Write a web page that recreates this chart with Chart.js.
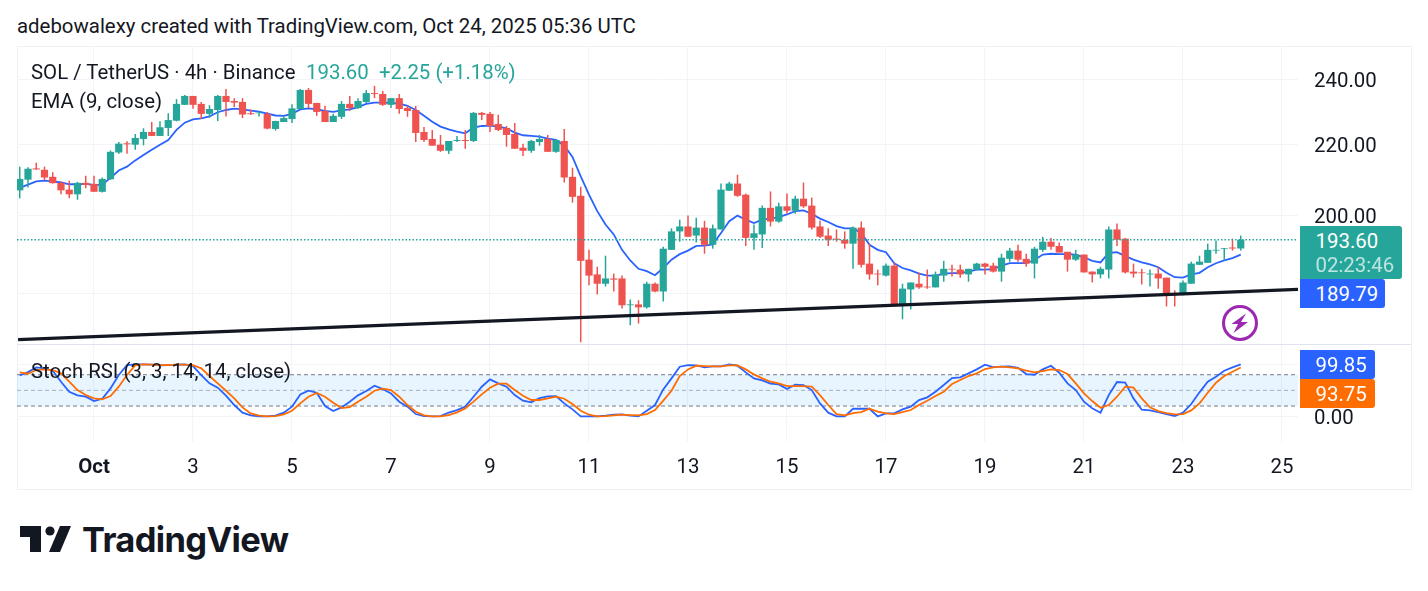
<!DOCTYPE html>
<html>
<head>
<meta charset="utf-8">
<title>SOL / TetherUS 4h</title>
<script src="https://cdn.jsdelivr.net/npm/chart.js@4/dist/chart.umd.min.js"></script>
<style>
  body { margin: 0; background: #fff; font-family: Roboto, sans-serif; color: #131722; }
  #page { position: relative; width: 1428px; height: 591px; overflow: hidden; }
  #page > * { position: absolute; }
  .txt { font-size: 20.4px; line-height: 24px; white-space: nowrap; }
  #frame { left: 17px; top: 46px; width: 1393px; height: 442px; border: 1px solid #eef0f4; }
  #divider { left: 17px; top: 344px; width: 1394px; height: 1px; background: #e0e3eb; }
  #priceChart { left: 17px; top: 46px; }
  #rsiChart { left: 17px; top: 345px; }
  .tag { left: 1300px; color: #fff; font-size: 20.4px; line-height: 24px; padding-left: 15.5px; box-sizing: border-box; border-radius: 0 3px 3px 0; }
  #lastTag { top: 226px; width: 102px; height: 53px; background: #26a69a; padding-top: 3px; }
  #lastTag span { display: block; opacity: .7; }
  #emaTag { top: 279px; width: 85px; height: 29px; background: #2962ff; padding-top: 3px; }
  #kTag { top: 350px; width: 75px; height: 29px; background: #2962ff; padding-top: 3px; }
  #dTag { top: 379px; width: 75px; height: 29px; background: #ff6d00; padding-top: 3px; }
  #logoText { left: 82px; top: 519px; font-family: Inter, sans-serif; font-weight: 700; font-size: 34.5px; line-height: 42px; letter-spacing: -.65px; color: #131722; }
</style>
</head>
<body>
<div id="page">
  <div id="frame"></div>
  <canvas id="priceChart" width="1394" height="298"></canvas>
  <div id="divider"></div>
  <canvas id="rsiChart" width="1394" height="143"></canvas>

  <div class="txt" style="left:17px;top:14px">adebowalexy created with TradingView.com, Oct 24, 2025 05:36 UTC</div>
  <div class="txt" style="left:31px;top:60px">SOL / TetherUS · 4h · Binance</div>
  <div class="txt" style="left:306px;top:60px;color:#26a69a">193.60</div>
  <div class="txt" style="left:379px;top:60px;color:#26a69a">+2.25 (+1.18%)</div>
  <div class="txt" style="left:31px;top:89px">EMA (9, close)</div>
  <div class="txt" style="left:31px;top:359px">Stoch RSI (3, 3, 14, 14, close)</div>

  <div class="tag" id="lastTag"><div id="lastValue"></div><span>02:23:46</span></div>
  <div class="tag" id="emaTag"></div>
  <div class="tag" id="kTag"></div>
  <div class="tag" id="dTag"></div>

  <svg style="left:1220px;top:303px" width="40" height="40" viewBox="1220 303 40 40">
    <circle cx="1240" cy="323" r="16.5" fill="none" stroke="#9c27b0" stroke-width="3"/>
    <polygon points="1246,313.5 1231.5,324 1238,324 1233.5,333 1248,322 1241,322" fill="#9c27b0"/>
  </svg>

  <svg style="left:20px;top:526px" width="52" height="27" viewBox="20 526 52 27">
    <polygon points="20,526 41,526 41,552 30,552 30,537 20,537" fill="#131722"/>
    <circle cx="50" cy="531" r="4.6" fill="#131722"/>
    <polygon points="60,526 71,526 60,552 49,552" fill="#131722"/>
  </svg>
  <div id="logoText">TradingView</div>
</div>

<script>
// 4h candles, oldest first
const opens = [206.9,209.9,213.1,212.7,210.7,209.0,207.1,205.8,209.0,208.7,
  206.5,210.0,217.7,220.4,220.0,221.7,223.8,222.6,225.0,227.2,
  232.1,234.9,232.4,229.3,230.5,234.9,233.3,233.0,229.5,229.5,
  229.3,224.7,226.8,227.7,230.8,236.8,232.7,230.2,226.8,228.4,
  232.4,231.1,233.0,235.8,235.5,232.1,234.2,231.1,230.5,223.8,
  221.7,220.0,218.2,221.1,221.4,221.1,229.6,229.3,226.2,225.0,
  223.2,219.1,218.2,220.8,221.7,217.9,221.1,210.7,205.4,188.5,
  184.8,182.5,183.8,183.8,177.3,177.5,176.8,182.5,180.6,191.0,
  195.8,197.1,194.7,196.8,192.3,196.3,206.8,208.8,205.7,194.1,
  195.0,202.1,198.4,202.5,201.3,204.6,202.7,197.1,194.7,193.9,
  193.6,192.6,196.8,187.5,185.0,184.5,187.0,177.5,181.1,182.5,
  181.8,181.6,184.5,186.2,186.0,184.8,186.0,187.5,187.0,185.5,
  188.7,190.8,188.7,187.5,191.0,193.1,192.0,190.5,188.5,189.8,
  185.5,184.8,186.0,196.3,193.9,185.5,185.3,184.8,185.0,184.0,
  180.1,179.9,182.5,187.2,187.7,190.8,191.2,191.6,191.35];
const highs = [213.6,213.4,214.7,213.6,212.0,209.4,209.6,209.3,211.0,211.0,
  210.5,218.3,220.8,221.0,223.2,224.9,226.8,227.0,229.5,233.9,
  235.2,234.9,233.0,232.0,235.2,237.1,234.2,234.2,230.7,230.1,
  229.9,227.2,228.7,232.3,237.1,237.4,232.7,231.8,229.3,233.3,
  234.9,234.2,236.8,238.1,236.5,234.2,235.5,231.8,231.8,225.3,
  224.4,222.9,221.1,222.6,224.4,229.9,229.9,229.9,229.0,225.6,
  226.5,220.3,221.4,222.9,222.9,221.7,224.7,213.3,207.9,191.0,
  186.7,189.5,185.0,184.5,178.7,178.5,183.0,182.8,191.8,196.6,
  198.9,200.0,199.4,198.6,197.6,208.8,209.3,211.3,206.0,197.6,
  202.7,206.6,203.5,206.0,205.4,209.1,204.9,198.6,196.6,196.3,
  195.8,197.1,198.4,192.6,186.0,187.5,187.7,182.5,182.8,185.3,
  186.0,185.5,188.2,187.2,187.2,186.2,187.7,187.7,187.7,190.0,
  191.5,192.3,190.0,191.8,194.4,194.1,192.9,190.5,191.0,189.8,
  185.5,186.7,197.1,197.9,194.1,187.5,186.2,186.0,186.7,184.0,
  180.9,183.3,188.0,189.5,192.6,193.4,191.5,193.9,194.7];
const lows = [204.7,207.7,212.7,209.7,208.8,205.8,204.7,204.3,207.5,206.5,
  206.3,209.9,217.3,217.3,218.5,219.8,222.6,222.6,222.6,227.0,
  232.1,230.9,227.7,228.1,227.1,228.5,231.4,228.0,229.0,228.5,
  224.6,224.2,226.8,226.5,230.8,231.1,228.7,226.8,226.8,227.7,
  230.2,230.8,232.7,234.2,231.8,231.1,229.3,228.4,220.8,220.8,
  219.7,217.9,217.3,220.8,218.8,220.8,227.4,223.8,224.1,219.4,
  218.8,216.7,217.6,219.7,217.9,217.6,209.1,203.5,168.7,182.1,
  179.9,181.8,180.6,176.5,172.6,173.0,176.5,180.4,178.2,191.0,
  193.1,194.4,192.9,190.0,191.3,196.3,206.8,205.1,192.0,191.0,
  191.5,197.1,198.1,200.5,200.5,202.1,196.3,194.1,192.0,193.1,
  191.3,186.2,186.5,183.5,182.1,184.3,177.3,174.0,176.3,181.3,
  181.3,181.6,183.0,184.3,184.0,183.0,185.8,184.8,185.3,183.0,
  188.0,188.0,186.7,183.8,190.5,191.0,190.3,185.5,188.2,185.3,
  182.8,183.8,183.8,192.0,185.0,184.0,182.3,181.8,181.3,177.0,
  177.0,179.7,182.5,187.2,187.7,190.0,188.2,190.8,190.8];
const closes = [210.1,213.0,212.8,210.5,208.9,206.9,205.8,209.0,208.4,206.5,
  210.1,217.9,220.3,220.1,222.0,223.8,222.6,225.2,227.4,232.4,
  234.9,232.1,229.3,230.8,234.9,233.0,232.8,229.1,229.2,229.7,
  224.8,227.1,228.0,231.0,236.8,232.4,229.9,226.8,228.7,232.4,
  231.1,233.3,235.8,235.5,232.1,234.2,230.8,230.2,223.5,221.4,
  219.7,218.2,221.1,221.4,221.1,229.6,229.0,225.6,224.4,222.9,
  218.8,218.2,221.1,221.7,217.9,221.4,210.5,205.1,188.2,184.5,
  182.5,183.8,183.5,177.3,177.5,176.8,182.5,180.6,191.3,195.8,
  197.1,194.4,196.8,192.3,196.6,207.1,208.8,205.4,194.1,195.3,
  202.1,198.4,202.5,201.3,204.6,202.5,196.8,194.4,193.6,193.6,
  192.6,196.8,187.2,184.8,184.8,187.0,177.5,181.3,182.8,181.6,
  181.6,184.8,186.2,186.0,184.8,186.2,187.5,186.7,185.5,189.0,
  190.8,188.5,187.5,191.3,193.1,191.8,190.3,188.5,189.8,185.3,
  184.8,186.2,196.3,193.6,185.3,185.0,185.1,185.0,183.8,179.9,
  179.9,182.8,187.5,188.0,191.0,191.0,191.4,191.35,193.6];

// EMA(9) line, one reading per candle
const emaValues = [207.6,208.5,209.4,209.6,209.4,209.1,208.6,208.6,208.7,208.4,
  208.5,210.4,212.5,213.6,215.4,217.0,218.5,220.0,221.4,224.4,
  226.6,227.6,227.9,228.5,229.8,230.5,230.9,230.7,230.3,230.0,
  229.4,228.8,228.7,229.3,230.7,231.0,230.7,230.2,229.9,230.4,
  230.7,231.4,232.4,232.8,232.8,232.7,232.5,231.8,230.5,228.7,
  226.9,225.4,224.6,223.9,223.4,225.1,225.6,225.7,225.4,224.9,
  223.6,222.8,222.6,222.4,221.8,221.4,219.7,216.4,210.8,205.7,
  201.2,197.6,195.0,191.0,188.3,186.2,185.6,184.6,186.4,188.5,
  189.9,190.8,192.0,192.1,192.4,195.4,198.5,200.0,198.9,198.0,
  198.9,199.2,199.6,200.3,201.2,201.4,200.5,199.2,198.3,197.2,
  196.6,196.6,195.4,192.3,191.0,190.4,187.6,186.4,185.8,185.0,
  184.5,184.5,185.0,185.1,185.1,185.5,186.0,186.0,186.1,187.0,
  187.6,187.6,187.6,188.4,189.8,190.0,189.9,189.9,189.8,189.1,
  188.2,187.8,190.2,190.4,189.4,188.5,187.8,187.3,186.6,185.2,
  184.1,184.0,184.8,185.2,186.6,187.6,188.3,188.9,189.79];

// Stochastic RSI %K and %D
const stochK = [78.7,85.1,94.1,92.2,87.7,66.6,47.4,40.4,37.8,29.5,
  34.0,53.8,79.4,98.5,99.8,99.8,99.2,97.9,98.5,99.2,
  99.8,96.6,79.4,63.4,55.1,39.8,21.9,7.2,2.1,0,
  0,1.4,7.2,18.7,42.3,49.3,45.5,19.9,10.4,17.4,
  28.3,40.4,48.7,58.9,52.5,44.2,28.3,18.7,4.6,0.8,
  0.1,0.8,7.2,12.3,18.7,37.8,57.0,71.1,63.4,57.0,
  41.0,30.2,27.0,35.3,38.5,39.1,25.1,13.6,0.1,0,
  0.1,1.4,3.3,4.0,1.4,0,11.0,21.9,51.9,73.0,
  95.4,98.5,97.9,94.1,96.0,96.0,100,97.3,84.5,73.0,
  69.1,62.8,61.5,52.5,60.8,60.2,50.6,25.1,7.2,0.1,
  0.1,14.8,14.8,14.8,0,5.9,5.9,13.6,18.7,31.5,
  36.6,47.4,60.2,73.6,74.9,82.6,90.2,99.2,94.7,95.4,
  96.0,93.4,81.3,80.0,90.2,97.3,83.8,63.4,50.6,28.3,
  15.5,7.2,41.0,66.0,64.7,34.6,12.9,11.6,8.4,4.6,
  0.8,7.2,23.8,46.2,66.6,76.2,87.7,94.1,99.85];
const stochD = [84.5,81.9,89.0,90.2,89.0,82.6,66.6,50.6,41.0,34.6,
  32.7,39.1,57.0,79.4,97.9,99.8,99.2,98.5,98.5,99.2,
  99.2,98.5,92.2,77.5,63.4,49.3,34.6,17.4,5.9,1.4,
  0,0.8,4.0,11.0,25.1,37.8,44.9,37.8,26.3,16.1,
  18.0,28.3,37.8,49.3,53.2,50.6,37.8,21.9,9.1,2.1,
  0.1,0.1,2.7,7.8,15.5,28.3,42.3,55.1,62.8,62.8,
  50.6,39.8,31.5,31.5,34.6,37.8,34.0,23.8,11.0,3.3,
  0,0.8,2.1,3.3,2.7,2.1,4.6,12.3,30.2,49.3,
  77.5,90.2,97.3,96.6,96.0,96.0,97.9,97.9,90.2,80.6,
  73.0,66.6,63.4,58.3,58.3,58.3,57.0,41.0,21.9,4.6,
  2.1,6.5,8.4,14.8,9.1,5.9,4.6,8.4,12.3,21.9,
  30.2,39.1,47.4,62.1,69.8,77.5,82.6,90.9,94.1,95.4,
  94.1,92.2,87.7,84.5,87.0,90.2,89.0,81.3,63.4,44.2,
  29.5,16.8,21.9,37.8,57.0,55.1,34.6,17.4,10.4,6.5,
  4.0,4.6,11.6,25.1,45.5,64.7,77.5,85.8,93.75];

// axes: one slot is one 4h candle, slot 0 is Oct 1 00:00
const firstSlot = -9;
const dateSlots = [0,12,24,36,48,60,72,84,96,108,120,132,144];
const dateLabels = ['Oct','3','5','7','9','11','13','15','17','19','21','23','25'];
const priceTicks = [180,200,220,240];
const stochTicks = [0,100];

// support trendline end prices and the stochastic band levels
const trendPrices = [169.3,181.1];
const bandLevels = [80,50,20];

const UP = '#26a69a', DOWN = '#ef5350', BLUE = '#2962ff', ORANGE = '#ff6d00', GRID = '#f2f4f7';
const slotMin = -9.333, slotMax = 145.94;

const slots = closes.map((_, i) => i + firstSlot);
const candleColors = closes.map((c, i) => c >= opens[i] ? UP : DOWN);
const spanPoints = v => [{x: slotMin, y: v}, {x: slotMax, y: v}];
const lineOn = (vals) => vals.map((v, i) => ({x: slots[i], y: v}));

function fixAxis(width) {
  return s => { s.width = width; s.paddingTop = 0; s.paddingBottom = 0; };
}

const xGrid = {color: GRID, offset: false, drawTicks: false};
const axisFont = {family: 'Roboto', size: 20.4};

const lastClose = closes[closes.length - 1];

new Chart(document.getElementById('priceChart'), {
  type: 'bar',
  data: {
    datasets: [
      {type: 'line', order: 0, data: [{x: -9.2, y: trendPrices[0]}, {x: slotMax, y: trendPrices[1]}],
        borderColor: '#131722', borderWidth: 3.2, pointRadius: 0},
      {type: 'line', order: 1, data: spanPoints(lastClose),
        borderColor: UP, borderWidth: 1.4, borderDash: [1.5, 2], pointRadius: 0},
      {order: 2, data: slots.map((x, i) => ({x, y: [opens[i], closes[i]]})),
        backgroundColor: candleColors, barThickness: 7.2, grouped: false, inflateAmount: 0},
      {order: 3, data: slots.map((x, i) => ({x, y: [lows[i], highs[i]]})),
        backgroundColor: candleColors, barThickness: 1.5, grouped: false, inflateAmount: 0},
      {type: 'line', order: 4, data: lineOn(emaValues),
        borderColor: BLUE, borderWidth: 1.8, pointRadius: 0}
    ]
  },
  options: {
    responsive: false,
    animation: false,
    layout: {padding: 0},
    plugins: {legend: {display: false}, tooltip: {enabled: false}},
    scales: {
      x: {
        type: 'linear', min: slotMin, max: slotMax, offset: false,
        afterBuildTicks: s => { s.ticks = dateSlots.map(value => ({value})); },
        grid: xGrid, border: {display: false}, ticks: {display: false}
      },
      y: {
        type: 'logarithmic', position: 'right', min: 168.3, max: 251.2,
        afterBuildTicks: s => { s.ticks = priceTicks.map(value => ({value})); },
        afterFit: fixAxis(113),
        grid: {color: GRID, drawTicks: false}, border: {display: false},
        ticks: {
          padding: 16, labelOffset: 2, color: '#131722', font: axisFont,
          // 180 sits under the EMA value tag
          callback: v => v === 180 ? '' : v.toFixed(2)
        }
      }
    }
  }
});

new Chart(document.getElementById('rsiChart'), {
  type: 'line',
  data: {
    datasets: [
      {order: 0, data: lineOn(stochD), borderColor: ORANGE, borderWidth: 1.8, pointRadius: 0},
      {order: 1, data: lineOn(stochK), borderColor: BLUE, borderWidth: 1.8, pointRadius: 0},
      {order: 2, data: spanPoints(bandLevels[0]), borderColor: '#787b86', borderWidth: 1, borderDash: [4, 3],
        pointRadius: 0, fill: {target: {value: bandLevels[2]}}, backgroundColor: 'rgba(33,150,243,.1)'},
      {order: 3, data: spanPoints(bandLevels[1]), borderColor: '#b2b5be', borderWidth: 1, borderDash: [4, 3], pointRadius: 0},
      {order: 4, data: spanPoints(bandLevels[2]), borderColor: '#787b86', borderWidth: 1, borderDash: [4, 3], pointRadius: 0}
    ]
  },
  options: {
    responsive: false,
    animation: false,
    layout: {padding: 0},
    plugins: {legend: {display: false}, tooltip: {enabled: false}},
    scales: {
      x: {
        type: 'linear', min: slotMin, max: slotMax, offset: false,
        afterBuildTicks: s => { s.ticks = dateSlots.map(value => ({value})); },
        afterFit: s => { s.height = 46; s.paddingLeft = 0; s.paddingRight = 0; },
        grid: xGrid, border: {display: false},
        ticks: {
          autoSkip: false, maxRotation: 0, padding: 14, color: '#131722',
          font: ctx => ctx.index === 0 ? {family: 'Roboto', size: 20.4, weight: 'bold'} : axisFont,
          callback: (v) => dateLabels[dateSlots.indexOf(v)]
        }
      },
      y: {
        position: 'right', min: -49, max: 137,
        afterBuildTicks: s => { s.ticks = stochTicks.map(value => ({value})); },
        afterFit: fixAxis(113),
        grid: {color: GRID, drawTicks: false}, border: {display: false},
        ticks: {
          padding: 16, labelOffset: 2.5, color: '#131722', font: axisFont,
          // 100 sits under the %K value tag
          callback: v => v === 100 ? '' : v.toFixed(2)
        }
      }
    }
  }
});

// value tags on the right axis, stacked so they do not overlap
document.getElementById('lastValue').textContent = lastClose.toFixed(2);
document.getElementById('emaTag').textContent = emaValues[emaValues.length - 1].toFixed(2);
document.getElementById('kTag').textContent = stochK[stochK.length - 1].toFixed(2);
document.getElementById('dTag').textContent = stochD[stochD.length - 1].toFixed(2);
</script>
</body>
</html>
